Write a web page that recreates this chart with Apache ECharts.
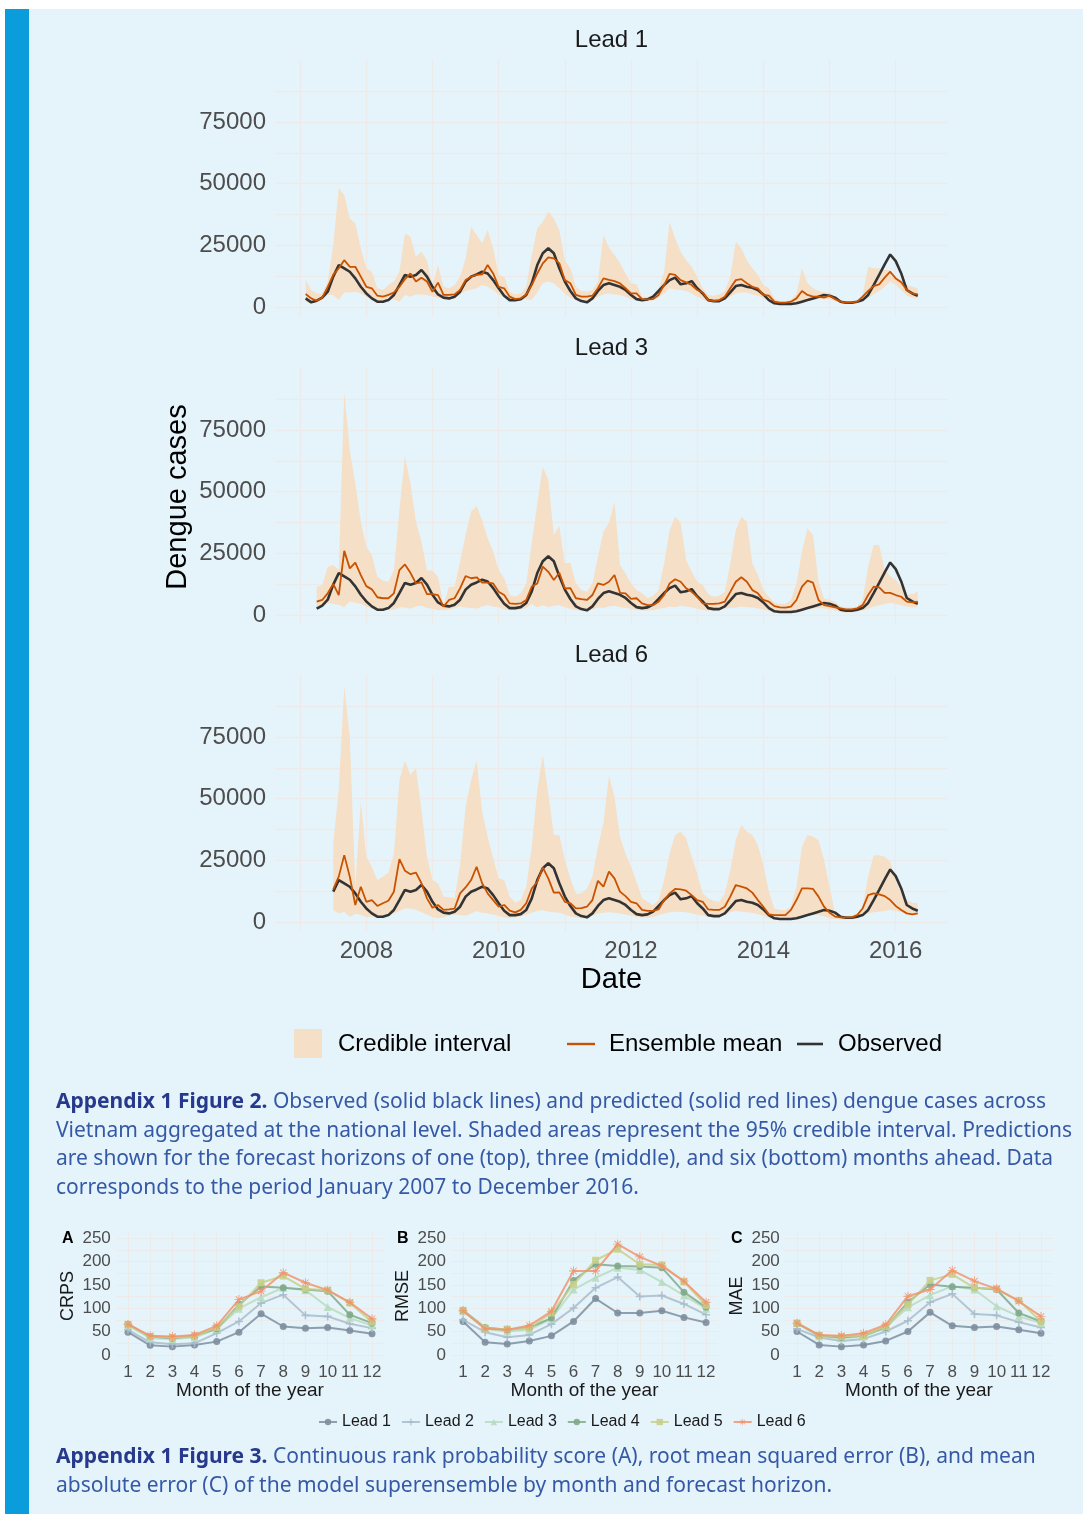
<!DOCTYPE html>
<html><head><meta charset="utf-8">
<script src="https://cdn.jsdelivr.net/npm/echarts@6/dist/echarts.min.js"></script>
<style>
html,body{margin:0;padding:0;background:#ffffff;}
#page{position:absolute;left:5px;top:9px;width:1078px;height:1505px;background:#e5f4fb;}
#stripe{position:absolute;left:5px;top:9px;width:24px;height:1505px;background:#0b9ddb;}
#chart{position:absolute;left:0;top:0;width:1083px;height:1514px;}
.cap{position:absolute;left:56px;font-family:'Noto Sans',sans-serif;font-size:21px;line-height:28.7px;color:#3559a6;white-space:nowrap;}
.cap b{color:#26398c;font-weight:700;}
</style></head>
<body>
<div id="page"></div><div id="stripe"></div>
<div id="chart"></div>
<div class="cap" style="top:1086px"><b>Appendix 1 Figure 2.</b> Observed (solid black lines) and predicted (solid red lines) dengue cases across<br>Vietnam aggregated at the national level. Shaded areas represent the 95% credible interval. Predictions<br>are shown for the forecast horizons of one (top), three (middle), and six (bottom) months ahead. Data<br>corresponds to the period January 2007 to December 2016.</div>
<div class="cap" style="top:1441px"><b>Appendix 1 Figure 3.</b> Continuous rank probability score (A), root mean squared error (B), and mean<br>absolute error (C) of the model superensemble by month and forecast horizon.</div>
<script>
// ---------- time axis (monthly, first observation Feb 2007) ----------
const startYear = 2007, startMonth = 2;
const yearTicks = [2008, 2010, 2012, 2014, 2016];
const yearGrid = [2007, 2008, 2009, 2010, 2011, 2012, 2013, 2014, 2015, 2016];
const caseTicks = [0, 25000, 50000, 75000];
const caseGrid = [0, 12500, 25000, 37500, 50000, 62500, 75000, 87500];

// ---------- observed dengue cases (Feb 2007 .. May 2016) ----------
const observed = [3500,1900,2550,3800,6200,12300,17000,15700,14300,11600,8200,
 5500,3500,2150,2150,2800,4900,8900,13000,12300,13000,15000,12300,
 8200,5100,3800,3500,4200,6200,10300,12300,13200,14300,13600,10900,
 7600,4600,2800,2800,3200,4900,9600,17000,21800,23800,21800,15700,
 10300,6500,3500,2400,1900,3500,6500,8900,9600,8900,8200,6900,
 4900,3200,2800,3100,4200,6500,8900,10900,11900,9200,9600,10500,
 7600,5500,2800,2400,2400,3500,5900,8500,8900,8200,7800,6900,
 5100,2800,1500,1200,1200,1200,1500,2150,2800,3500,4200,4900,
 4600,3800,2150,1750,1750,2150,2800,4900,8900,13000,17300,21300,
 18600,13600,6900,5500,4600];

// ---------- Lead 1 (Feb 2007 .. May 2016) ----------
const mean1 = [5300,3500,2550,3800,8200,13000,15700,19000,16300,16300,12300,
 8200,7600,4600,4200,4900,5900,8200,11300,13600,10300,11900,10300,
 6200,9900,4900,4900,5100,6900,10900,12300,13000,13200,17000,13600,
 8200,7600,4200,3200,3500,5100,8900,13600,17700,20100,19700,17700,
 10900,9600,4900,4200,4200,4600,7600,11600,11000,10500,9600,7600,
 5500,5500,3200,3100,3200,4900,8900,13400,13000,10900,10000,8900,
 6900,5900,2800,2400,2800,4200,7600,10900,11300,9600,8200,7600,
 4900,4600,2150,1750,1750,2150,3500,6500,4900,4200,4200,3800,
 4600,3200,2150,1750,1900,2150,4200,6500,8500,9200,11900,14300,
 11600,10000,6900,5500,5100];
const lo1 = [2150,1500,1900,2800,4900,4900,2800,5900,5900,6200,5500,
 4200,2800,2150,2150,2800,3200,2150,4900,4200,5100,5100,4900,
 4200,3800,3200,3200,3500,5100,6500,7000,7600,8900,8200,6900,
 5100,3800,2800,2400,2800,3200,2800,6000,9600,10300,9600,7600,
 5500,3800,2800,2150,1750,2800,4200,5100,5500,5100,4900,4200,
 3200,2800,2400,2400,2800,3800,5500,7600,7000,6900,6500,5500,
 4200,3200,2150,1900,2150,2800,4200,5500,5900,5900,5100,4600,
 3500,2400,1200,900,900,1000,1200,1900,2400,2800,3200,3500,
 3200,2400,1500,1200,1200,1500,2400,3800,5100,6500,8200,10300,
 8900,6900,4600,3800,3500];
const hi1 = [10900,6900,5500,5500,10300,25000,48100,45400,35900,33900,23800,
 15700,14300,7600,6900,8900,10300,14300,29800,28500,20400,22400,19000,
 8900,17000,8200,7600,8900,12300,19700,32500,29200,25800,31200,23800,
 13000,12300,6200,5100,5500,8200,21100,31900,34600,38600,35900,31200,
 19000,15700,8200,6500,6200,6900,10300,29200,24000,21100,17700,13600,
 9600,9200,4200,4200,4900,7600,14300,34600,27800,22400,19000,16300,
 12300,7600,4900,4600,5100,6500,12300,26500,23800,19000,15700,13000,
 8900,7600,3500,2400,2400,2800,5500,15700,9600,7600,6500,5900,
 5900,4200,2800,2400,2400,2800,4900,16300,15700,15700,15000,15000,
 12300,10900,8900,8200,7600];

// ---------- Lead 3 (Apr 2007 .. May 2016) ----------
const mean3 = [5400,6100,8800,12600,8100,26000,18900,21200,16200,
 11700,10400,7200,6800,6800,8800,18200,20500,17100,12800,13200,8500,
 8500,8100,3400,6100,6800,10800,15800,14900,15300,13100,13100,12800,
 9400,8100,4700,4500,4700,6100,11500,12800,19600,17500,14200,17100,
 10800,10900,6800,6400,6100,8100,12800,12200,13500,16200,9000,8800,
 6500,6800,4700,4000,4000,5400,8100,12800,14500,13500,10800,9400,
 7400,4700,4500,4500,4700,5400,9400,13500,15300,13500,10100,8800,
 6100,5400,3600,3100,3000,3400,6100,11500,13900,13100,6100,4000,
 3600,3100,2700,2300,2300,2700,4000,8100,11500,11200,9000,9000,
 8100,7400,5400,5100,5400];
const lo3 = [2500,3000,5000,4500,4200,3200,5500,5000,4500,
 3500,2500,2000,2000,2000,2200,3000,3000,2500,3500,3800,2800,
 2500,2000,1900,2200,2800,3500,3000,2800,2500,3500,4000,3500,
 3000,2200,2000,2000,2200,2800,4500,3000,4000,3200,3800,4000,
 3200,2500,2000,1800,1800,2200,3000,2800,3500,3800,3200,2800,
 2400,2000,1800,1800,2000,2500,2800,3500,3200,3800,3500,3000,
 2500,2000,1700,1700,1900,2500,2800,3000,3500,3200,3000,2600,
 2200,1600,1000,900,900,1000,1200,1500,2200,2500,2800,2600,
 2300,1800,1200,1000,1000,1200,1800,2500,3500,4000,4500,5000,
 4500,4000,3500,3000,3200];
const hi3 = [11500,12200,19600,20300,18200,90500,66900,53400,37800,
 27700,24300,15500,13900,13500,18200,42500,64400,53400,37800,29700,18000,
 18000,15500,4100,11500,11500,21600,32400,41900,44200,38500,31100,25700,
 18200,14900,8100,7400,8800,12800,29100,45300,60100,54700,32400,36100,
 20900,21300,12800,10100,9400,12800,23600,33800,37400,45900,20300,16900,
 12800,10100,8800,6800,7800,10100,20900,34400,39800,37400,22300,17500,
 13500,12200,8500,7400,7800,9400,20900,34400,39800,37800,20900,16200,
 10100,7400,5000,4600,4600,6100,12800,25700,35100,32400,13500,6800,
 6100,5400,3600,3100,3100,3400,6100,19600,28400,28400,18200,15800,
 14200,11500,8100,8500,9400];

// ---------- Lead 6 (Jul 2007 .. May 2016) ----------
const mean6 = [13200,18400,27100,18400,6900,14300,
 8200,8900,6500,7600,8600,12300,25500,20800,19400,20000,15700,9600,
 5800,6900,4900,5100,5400,11600,14000,17000,22400,15700,11600,8900,
 6200,6900,4600,3900,4900,7600,13600,16300,22100,17700,11900,12000,
 8200,7600,5500,5600,6200,8900,16700,14300,20400,17700,12300,10500,
 8200,7600,4900,4500,4500,5100,8900,11600,13400,13200,12700,10900,
 8900,8200,5100,4900,4900,6200,10300,15000,14300,13600,11900,8900,
 6200,3100,2800,2800,2800,4900,8900,13600,13600,13400,10300,6200,
 3800,2200,1900,1900,1900,2800,5500,10900,11600,11200,10500,8900,
 6500,4900,3500,3100,3500];
const lo6 = [4900,3500,4200,1900,3500,2800,
 1900,2200,1500,1800,2500,3500,4500,5500,5500,5000,4000,3000,
 2000,1500,1800,2500,3000,2800,2500,3500,4500,3800,3500,3000,
 2500,1800,1500,1800,2200,3000,3800,4500,4800,4200,4000,3800,
 3000,2200,1900,1500,1800,2500,3500,3800,4000,3800,3500,3000,
 2500,2000,1800,1800,2000,2800,3500,4000,4200,4200,4000,3500,
 3000,2500,2200,2200,2500,3200,4000,4500,4200,4000,3800,3200,
 2500,1500,1000,1000,1000,1200,1500,2000,2500,2800,2800,2200,
 1500,1200,1000,1000,1000,1500,2500,3500,4000,4200,4500,5000,
 4500,4000,3500,3000,2800];
const hi6 = [31900,53500,95400,75100,15000,48700,
 26500,22400,17000,18400,20000,27800,57500,65400,59600,62300,45400,26500,
 17000,15700,10300,10000,9600,23100,46700,57500,65600,44700,34600,25800,
 17700,17000,10300,7800,8900,14300,30500,53500,67700,52100,35300,35300,
 25100,17700,11600,11600,13600,18400,30500,40000,59200,50800,34600,27800,
 22400,16300,9600,8200,6900,8900,17000,27800,35300,36600,33900,26500,
 19700,11600,9600,8600,8200,11600,21100,33200,39300,36600,35300,31200,
 23100,12300,5500,4900,4900,6200,14300,30500,35300,34600,33200,25100,
 14300,3500,2500,2500,2500,3500,6200,18400,27100,27100,26500,24400,
 17000,11600,8900,7800,7600];

// ---------- scores by month (Figure 3) ----------
const months = [1,2,3,4,5,6,7,8,9,10,11,12];
const scoreTicks = [0,50,100,150,200,250];
const scoreGrid = [0,25,50,75,100,125,150,175,200,225,250];
const leadNames = ['Lead 1','Lead 2','Lead 3','Lead 4','Lead 5','Lead 6'];
const crps = [
 [48.9,20.8,18,21.6,28.7,48.9,88.4,61,57.5,58.9,52.4,45.3],
 [53.9,27.3,23,25,46.7,71.8,111,129,84.8,82.6,66.8,57.5],
 [63.2,36,34.5,37.4,56,99,123.6,143.7,138.7,102.7,79,63.2],
 [66,39.5,36,41,56,107.8,146.6,143.7,140,136.5,86.2,68.2],
 [64.7,39.5,37.4,39.5,59,104,154.5,168.8,141.5,138.7,111.4,70.4],
 [66,41,39.5,43,62.5,118.5,136.5,176,154.5,138.7,112.8,77.6]];
const rmse = [
 [71.8,27.3,23.7,30.2,41,71.8,120.7,89.8,89.8,94.8,80.5,69.7],
 [75.4,48.9,38,43,66,100.6,143.7,166.7,125,127.2,109.2,86.2],
 [93.4,56,50.3,53.9,77.6,140,165.2,186.8,181.8,155.9,127.2,99.1],
 [95.5,58.9,53.9,58.9,79,159.5,194,190.4,189,186.8,134.3,102],
 [95.5,57.5,55.3,57.5,89.8,150.9,202.6,226.3,194,192.5,156.6,106.3],
 [94.8,56,53.9,63.2,93.4,179.6,179.6,237,209.8,190.4,158,112.8]];
const mae = [
 [50.3,21.6,18,21.6,30.2,50.3,91.2,62.5,58.9,61,53.9,46.7],
 [56,37.4,30.2,34.5,50.3,73.3,112.8,130.7,87.6,84.8,70.4,58.9],
 [68.2,39.5,36,39.5,59,102,127.9,147.3,140,104.2,82.6,68.2],
 [68.2,41.7,37.4,41.7,59,112.8,150.9,145.8,143.7,140,89.8,71.8],
 [68.2,41.7,39.5,41.7,61,107.8,159.5,172.4,143.7,141.5,116.4,71.8],
 [68.2,43,41,46.7,64.7,125.7,140,181,158,141.5,115,82.6]];

// ---------- styling ----------
const FONT = 'Liberation Sans, Arial, sans-serif';
const GRID_COL = '#edeaea';
const RIBBON = '#f5dfc6';
const MEAN_COL = '#c85200';
const OBS_COL = '#333333';
const leadColors = ['#7e8e9f','#a9bccb','#b7dcc0','#80a98b','#c8cf8a','#f2946c'];
const PLUS = 'path://M4,0h2v4h4v2h-4v4h-2v-4h-4v-2h4z';
const STAR = 'path://M4.5,0h1v10h-1z M0,4.5h10v1h-10z M1.1,1.8l0.7,-0.7l7.1,7.1l-0.7,0.7z M8.2,1.1l0.7,0.7l-7.1,7.1l-0.7,-0.7z';
const leadSymbols = ['circle', PLUS, 'triangle', 'circle', 'rect', STAR];
const leadSymbolSize = [7, 8, 8, 7, 7, 9];

function dateAt(k) { return startYear + (startMonth - 1 + k) / 12; }

const panels = [
  {title:'Lead 1', off:0, mean:mean1, lo:lo1, hi:hi1, top:60},
  {title:'Lead 3', off:2, mean:mean3, lo:lo3, hi:hi3, top:368},
  {title:'Lead 6', off:5, mean:mean6, lo:lo6, hi:hi6, top:675}
];
const scorePanels = [
  {letter:'A', name:'CRPS', data:crps, left:115.8, width:268.4},
  {letter:'B', name:'RMSE', data:rmse, left:450.9, width:267.3},
  {letter:'C', name:'MAE', data:mae, left:784.8, width:268.4}
];

const grid = [], xAxis = [], yAxis = [], series = [], graphic = [];

panels.forEach((p, i) => {
  grid.push({left:275, top:p.top, width:673, height:256.4});
  xAxis.push({
    gridIndex:i, type:'value', min:2006.62, max:2016.79,
    axisLine:{show:false}, axisTick:{show:false, customValues:yearGrid},
    axisLabel:{show:i===2, customValues:yearTicks, formatter:v=>String(Math.round(v)),
      fontSize:24, color:'#4d4d4d', fontFamily:FONT, margin:8},
    splitLine:{show:true, lineStyle:{color:GRID_COL, width:1.3}}
  });
  yAxis.push({
    gridIndex:i, type:'value', min:-3800, max:100100,
    axisLine:{show:false}, axisTick:{show:false, customValues:caseGrid},
    axisLabel:{customValues:caseTicks, formatter:v=>String(Math.round(v)),
      fontSize:24, color:'#4d4d4d', fontFamily:FONT, margin:9},
    splitLine:{show:true, lineStyle:{color:GRID_COL, width:1.3}}
  });
  // credible-interval ribbon: polygon through hi (forward) then lo (backward), placed by the axes
  series.push({
    type:'custom', xAxisIndex:i, yAxisIndex:i, silent:true, z:1, clip:true,
    data:[[dateAt(p.off), p.lo[0]]],
    renderItem:(params, api) => {
      const pts = [];
      p.hi.forEach((v, j) => pts.push(api.coord([dateAt(p.off + j), v])));
      for (let j = p.lo.length - 1; j >= 0; j--) pts.push(api.coord([dateAt(p.off + j), p.lo[j]]));
      return {type:'polygon', shape:{points:pts}, style:{fill:RIBBON}};
    }
  });
  series.push({
    type:'line', xAxisIndex:i, yAxisIndex:i, symbol:'none', silent:true,
    data:observed.slice(p.off).map((v,j)=>[dateAt(p.off+j), v]),
    lineStyle:{color:OBS_COL, width:2.6}, z:3
  });
  series.push({
    type:'line', xAxisIndex:i, yAxisIndex:i, symbol:'none', silent:true,
    data:p.mean.map((v,j)=>[dateAt(p.off+j), v]),
    lineStyle:{color:MEAN_COL, width:1.8}, z:4
  });
  graphic.push({type:'text', style:{
    text:p.title, x:611.5, y:p.top-20, align:'center', verticalAlign:'middle',
    font:'24px '+FONT, fill:'#1a1a1a'}});
});

scorePanels.forEach((s, n) => {
  const gi = 3 + n;
  grid.push({left:s.left, top:1232.2, width:s.width, height:128.7});
  xAxis.push({
    gridIndex:gi, type:'value', min:0.45, max:12.55,
    axisLine:{show:false}, axisTick:{show:false, customValues:months},
    axisLabel:{customValues:months, fontSize:17, color:'#4d4d4d', fontFamily:FONT, margin:3},
    splitLine:{show:true, lineStyle:{color:GRID_COL, width:1}}
  });
  yAxis.push({
    gridIndex:gi, type:'value', min:-12.5, max:262.5,
    axisLine:{show:false}, axisTick:{show:false, customValues:scoreGrid},
    axisLabel:{customValues:scoreTicks, fontSize:17, color:'#4d4d4d', fontFamily:FONT, margin:5},
    splitLine:{show:true, lineStyle:{color:GRID_COL, width:1}}
  });
  s.data.forEach((vals, L) => {
    series.push({
      name:leadNames[L], type:'line', xAxisIndex:gi, yAxisIndex:gi,
      data:vals.map((v,j)=>[months[j], v]),
      symbol:leadSymbols[L], symbolSize:leadSymbolSize[L], showSymbol:true,
      lineStyle:{color:leadColors[L], width:2, opacity:0.85},
      itemStyle:{color:leadColors[L], opacity:0.9}, z:3+L
    });
  });
  const cx = s.left + s.width/2;
  graphic.push({type:'text', style:{text:'Month of the year', x:cx, y:1391,
    align:'center', verticalAlign:'middle', font:'19px '+FONT, fill:'#1a1a1a'}});
  graphic.push({type:'text', style:{text:s.letter, x:s.left-48, y:1239,
    align:'center', verticalAlign:'middle', font:'bold 16px '+FONT, fill:'#000000'}});
  graphic.push({type:'text', rotation:Math.PI/2, x:s.left-48, y:1296, style:{text:s.name, x:0, y:0,
    align:'center', verticalAlign:'middle', font:'18px '+FONT, fill:'#1a1a1a'}});
});

// axis titles for Figure 2
graphic.push({type:'text', rotation:Math.PI/2, x:178, y:497, style:{text:'Dengue cases', x:0, y:0,
  align:'center', verticalAlign:'middle', font:'29px '+FONT, fill:'#000000'}});
graphic.push({type:'text', style:{text:'Date', x:611.5, y:980,
  align:'center', verticalAlign:'middle', font:'29px '+FONT, fill:'#000000'}});
// legend for Figure 2
graphic.push({type:'rect', shape:{x:294, y:1029, width:28, height:29}, style:{fill:RIBBON}});
graphic.push({type:'text', style:{text:'Credible interval', x:338, y:1044, verticalAlign:'middle', font:'24px '+FONT, fill:'#000000'}});
graphic.push({type:'line', shape:{x1:567, y1:1044, x2:595, y2:1044}, style:{stroke:MEAN_COL, lineWidth:2.4}});
graphic.push({type:'text', style:{text:'Ensemble mean', x:609, y:1044, verticalAlign:'middle', font:'24px '+FONT, fill:'#000000'}});
graphic.push({type:'line', shape:{x1:797, y1:1044, x2:823, y2:1044}, style:{stroke:OBS_COL, lineWidth:2.6}});
graphic.push({type:'text', style:{text:'Observed', x:838, y:1044, verticalAlign:'middle', font:'24px '+FONT, fill:'#000000'}});

const chart = echarts.init(document.getElementById('chart'), null, {renderer:'canvas'});
chart.setOption({
  animation:false,
  textStyle:{fontFamily:FONT},
  grid, xAxis, yAxis, series,
  graphic:{elements:graphic},
  legend:{
    data:leadNames, left:313, top:1409, itemWidth:18, itemHeight:8, itemGap:10,
    textStyle:{fontSize:16, color:'#1a1a1a', fontFamily:FONT}, selectedMode:false
  }
});
</script>
</body></html>
